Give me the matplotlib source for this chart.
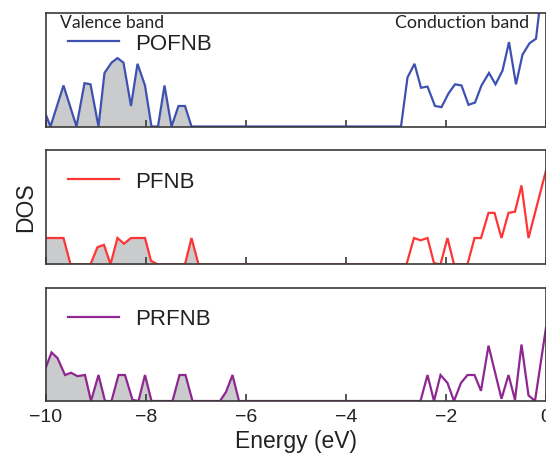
import numpy as np
import matplotlib
matplotlib.use("Agg")
import matplotlib.pyplot as plt

plt.rcParams['font.family'] = ['Liberation Sans', 'DejaVu Sans']

# ---- data ----
pofnb_E = [-10.0, -9.91, -9.65, -9.39, -9.23, -9.11, -8.95, -8.83, -8.69, -8.57, -8.45, -8.30,
           -8.17, -8.02, -7.89, -7.76, -7.63, -7.49, -7.35, -7.22, -7.09,
           -2.90, -2.77, -2.63, -2.50, -2.37, -2.22, -2.09, -1.95, -1.82, -1.69, -1.55, -1.42,
           -1.29, -1.14, -1.01, -0.87, -0.74, -0.60, -0.47, -0.33, -0.20, -0.07, 0.0]
pofnb_D = [0.10, 0.0, 0.36, 0.0, 0.38, 0.37, 0.0, 0.47, 0.56, 0.60, 0.56, 0.18,
           0.55, 0.36, 0.0, 0.0, 0.36, 0.0, 0.18, 0.18, 0.0,
           0.0, 0.43, 0.55, 0.34, 0.35, 0.18, 0.17, 0.29, 0.37, 0.36, 0.19, 0.21,
           0.36, 0.47, 0.37, 0.49, 0.74, 0.37, 0.63, 0.73, 0.77, 1.25, 1.5]

pfnb_E = [-10.0, -9.65, -9.51, -9.11, -8.97, -8.84, -8.71, -8.57, -8.44, -8.30, -8.02, -7.90,
          -7.77, -7.22, -7.09, -6.95,
          -2.79, -2.64, -2.51, -2.37, -2.24, -2.11, -1.97, -1.84, -1.57, -1.43, -1.30, -1.15,
          -1.03, -0.89, -0.75, -0.62, -0.49, -0.35, 0.0]
pfnb_D = [0.23, 0.23, 0.0, 0.0, 0.15, 0.17, 0.0, 0.23, 0.18, 0.23, 0.23, 0.03,
          0.0, 0.0, 0.23, 0.0,
          0.0, 0.23, 0.21, 0.23, 0.01, 0.0, 0.23, 0.0, 0.0, 0.23, 0.23, 0.45,
          0.45, 0.23, 0.45, 0.46, 0.69, 0.23, 0.82]

prfnb_E = [-10.0, -9.89, -9.77, -9.62, -9.50, -9.37, -9.22, -9.10, -8.95, -8.82, -8.69, -8.55,
           -8.42, -8.27, -8.15, -8.02, -7.89, -7.47, -7.33, -7.21, -7.07, -6.52, -6.40, -6.27, -6.14,
           -2.51, -2.37, -2.24, -2.11, -1.97, -1.84, -1.70, -1.57, -1.43, -1.30, -1.15, -0.89,
           -0.75, -0.62, -0.49, -0.35, -0.22, 0.0]
prfnb_D = [0.30, 0.43, 0.38, 0.23, 0.25, 0.22, 0.23, 0.0, 0.23, 0.0, 0.0, 0.23,
           0.23, 0.01, 0.0, 0.23, 0.0, 0.0, 0.23, 0.23, 0.0, 0.0, 0.08, 0.23, 0.0,
           0.0, 0.23, 0.0, 0.23, 0.16, 0.0, 0.16, 0.23, 0.23, 0.09, 0.49, 0.02,
           0.23, 0.01, 0.50, 0.05, 0.0, 0.65]

labels = ["POFNB", "PFNB", "PRFNB"]
colors = ["#3f51b0", "#ff3535", "#8e2890"]
series = [(pofnb_E, pofnb_D), (pfnb_E, pfnb_D), (prfnb_E, prfnb_D)]
xticks = [-10, -8, -6, -4, -2, 0]

fig = plt.figure(figsize=(5.46, 4.64), dpi=100)
W, H = 546, 464
left = 46 / W
width = 500 / W
panels = [(13.5, 127.5), (151, 265.3), (289, 402)]
spine_col = "#3a3a3a"
fill_col = "#cacbcd"

axes = []
for i, ((top, bot), (E, D), lab, col) in enumerate(zip(panels, series, labels, colors)):
    ax = fig.add_axes([left, (H - bot) / H, width, (bot - top) / H])
    E = np.asarray(E)
    D = np.asarray(D)
    ax.fill_between(E, 0, D, where=E < -4, color=fill_col, lw=0, interpolate=True)
    ax.plot(E, D, color=col, lw=1.6, label=lab, solid_joinstyle='miter')
    ax.set_xlim(-10, 0)
    ax.set_ylim(0, 1)
    ax.set_xticks(xticks)
    ax.set_yticks([])
    ax.tick_params(axis='x', direction='in', length=5, width=1.2, color=spine_col,
                   labelsize=14, pad=5, labelcolor="#222222")
    if i < 2:
        ax.tick_params(axis='x', labelbottom=False)
    for s in ax.spines.values():
        s.set_color(spine_col)
        s.set_linewidth(1.2)
    leg = ax.legend(loc='center left', bbox_to_anchor=(0.044, 0.726), frameon=False,
                    fontsize=16, handlelength=2.3, handletextpad=0.7, borderpad=0,
                    borderaxespad=0)
    for t in leg.get_texts():
        t.set_color("#222222")
    axes.append(ax)

axes[0].text(0.028, 0.985, "Valence band", transform=axes[0].transAxes, ha='left', va='top',
             fontsize=12.6, family=['Lato', 'DejaVu Sans'], color="#222222")
axes[0].text(0.966, 0.985, "Conduction band", transform=axes[0].transAxes, ha='right', va='top',
             fontsize=12.8, family=['Lato', 'DejaVu Sans'], color="#222222")

axes[2].set_xlabel("Energy (eV)", fontsize=16.5, color="#222222", labelpad=3)
fig.text(26 / W, 1 - 207 / H, "DOS", rotation=90, ha='center', va='center',
         fontsize=16.5, color="#222222")

fig.savefig("out.png", dpi=100)
